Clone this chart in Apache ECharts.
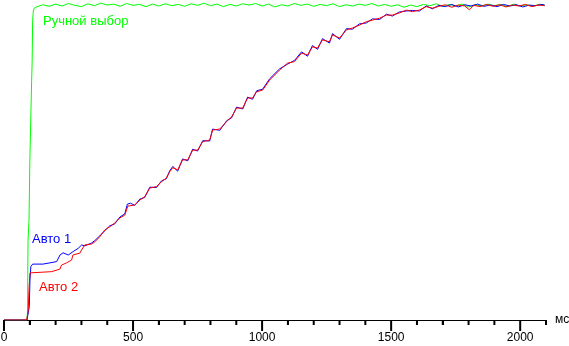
<!DOCTYPE html>
<html><head><meta charset="utf-8">
<script src="https://cdn.jsdelivr.net/npm/echarts@6/dist/echarts.min.js"></script>
<style>html,body{margin:0;padding:0;background:#fff}#c{width:569px;height:346px}</style>
</head><body><div id="c"></div>
<script>
// x in ms, y in % of final level
const majorTicks = [0, 500, 1000, 1500, 2000];
const minorTicks = [100, 200, 300, 400, 600, 700, 800, 900, 1100, 1200, 1300, 1400, 1600, 1700, 1800, 1900, 2100];
const axisMax = 2100;
const seriesNames = ['Ручной выбор', 'Авто 1', 'Авто 2'];
const axisUnit = 'мс';

const manual = [[0,0],[89,0],[91,2.5],[93,25],[97,32],[100,50],[107,76],[109,82],[111,95.5],[114,98.7],[119,99.5],
[125,99.7],[150,100.4],[175,99.9],[200,100.6],[225,100.0],[250,100.8],[275,100.2],[300,99.8],[325,100.7],[350,100.1],
[375,100.9],[400,100.3],[425,100.6],[450,99.9],[475,100.8],[500,100.2],[525,100.5],[550,99.8],[575,100.6],[600,100.0],
[625,100.7],[650,100.1],[675,100.5],[700,99.9],[725,100.7],[750,100.2],[775,100.9],[800,100.1],[825,100.6],[850,99.8],
[875,100.5],[900,100.0],[925,100.7],[950,100.3],[975,100.8],[1000,100.0],[1025,100.6],[1050,99.7],[1075,100.4],[1100,100.0],
[1125,100.8],[1150,100.2],[1175,100.6],[1200,99.9],[1225,100.5],[1250,100.1],[1275,100.7],[1300,99.8],[1325,100.4],[1350,100.0],
[1375,100.6],[1400,100.2],[1425,100.8],[1450,100.0],[1475,100.5],[1500,99.9],[1525,100.4],[1550,99.6],[1575,100.3],[1600,99.8],
[1625,100.5],[1650,100.1],[1675,100.7],[1700,99.8],[1725,100.5],[1750,100.0],[1775,100.6],[1800,99.7],[1825,100.4],[1850,100.0],
[1875,100.6],[1900,100.1],[1925,100.5],[1950,99.8],[1975,100.6],[2000,100.0],[2025,100.4],[2050,99.9],[2075,100.6],[2095,100.1]];

const auto1 = [[0,0],[89,0],[98,4.2],[100.6,12.7],[104,17.0],[111,17.8],[151,17.8],[178,18.2],[204,18.6],[217,20.7],[229,21.4],
[249,20.7],[268,21.8],[287,22.8],[301,23.9],[313,23.6],[339,24.5],[352,25.3],[371,26.8],[390,28.4],[410,30.0],[429,30.6],
[449,32.8],[468,33.8],[478,36.9],[490,37.2],[507,36.5],[526,38.5],[545,39.0],[565,42.3],[591,42.2],[610,44.3],[629,45.0],
[642,47.5],[654,48.9],[673,47.4],[692,51.3],[712,50.7],[731,54.4],[750,53.8],[770,57.1],[797,57.0],[808,60.8],[836,60.4],
[863,63.5],[882,64.4],[901,67.8],[925,67.2],[944,71.0],[963,70.3],[979,73.0],[1002,73.5],[1029,76.8],[1068,80.0],[1099,81.5],
[1126,82.7],[1153,85.4],[1176,84.0],[1195,87.4],[1215,86.2],[1234,89.6],[1261,88.2],[1273,91.2],[1300,89.4],[1327,92.8],
[1350,92.6],[1377,94.3],[1404,94.6],[1428,95.9],[1455,95.7],[1462,95.4],[1482,97.4],[1505,96.8],[1532,98.1],[1559,98.4],[1582,98.6],
[1609,98.4],[1636,100.0],[1660,99.1],[1685,100.2],[1710,99.8],[1735,100.5],[1760,99.7],[1785,100.4],[1810,100.0],[1835,100.6],
[1860,99.9],[1885,100.3],[1910,99.8],[1935,100.5],[1960,100.0],[1985,100.4],[2010,99.7],[2035,100.3],[2060,100.1],[2085,100.5],[2095,100.3]];

const auto2 = [[0,0],[88,0],[94,3.2],[96.7,9.6],[100.6,15.0],[107,15.4],[184.5,15.4],[189.6,15.7],[216.6,16.2],[223,17.5],
[242.6,18.2],[262,19.1],[267,20.7],[294,21.3],[300.6,22.3],[313,23.9],[339,24.2],[352,24.9],[371,26.5],[390.7,28.7],[410,29.7],
[429,30.9],[448.7,32.5],[468,33.4],[480,36.3],[506.8,36.6],[526,38.2],[545.5,39.3],[564.8,42.0],[590.7,42.5],[610,44.0],
[629,45.2],[642,47.2],[653.8,48.5],[673,47.8],[692,51.0],[711.8,51.0],[731,54.1],[750.5,54.1],[770,56.8],[797,57.3],
[808.5,60.5],[835.6,60.8],[862.7,63.2],[882,64.7],[901,67.5],[924.6,67.5],[944,70.7],[963,70.7],[978.7,72.7],[1002,73.2],
[1029,76.4],[1067.7,79.6],[1098.6,81.8],[1125.7,82.3],[1152.8,85.0],[1176,84.4],[1195.4,87.0],[1214.7,86.6],[1234,89.2],
[1261,88.6],[1272.7,90.8],[1300,89.8],[1327,92.4],[1350,93.0],[1377,93.9],[1404,95.0],[1427.5,95.5],[1454.5,96.1],
[1481.6,97.1],[1504.8,97.1],[1532,97.8],[1559,98.7],[1582,98.2],[1609,98.7],[1636,99.8],[1660,99.3],[1685,99.9],[1710,100.4],
[1735,99.6],[1760,100.3],[1785,100.0],[1803,98.8],[1820,100.2],[1845,99.8],[1870,100.5],[1895,99.9],[1920,100.4],[1945,99.7],
[1970,100.3],[1995,100.0],[2020,100.5],[2045,99.8],[2070,100.3],[2095,100.1]];

const GREEN = '#00ff00', BLUE = '#0000ff', RED = '#ff0000';
const font = '"Liberation Sans", Arial, sans-serif';
const chart = echarts.init(document.getElementById('c'));
const line = (name, data, color, z) => ({
  name, type: 'line', data, showSymbol: false, symbol: 'none', z,
  lineStyle: {color, width: 1}, itemStyle: {color}
});
const tickSeries = (values, len) => ({
  type: 'custom', data: values.map(v => [v, 0]), clip: false, z: 10,
  renderItem: (params, api) => {
    const p = api.coord([api.value(0), 0]);
    return {type: 'line', shape: {x1: p[0], y1: p[1], x2: p[0], y2: p[1] + len},
      style: {stroke: '#000', lineWidth: 2}};
  }
});
chart.setOption({
  animation: false,
  grid: {left: 4, right: 23, top: 0, bottom: 26, containLabel: false, outerBoundsMode: 'none'},
  xAxis: {
    type: 'value', min: 0, max: axisMax, interval: 100,
    axisLine: {show: true, onZero: false, lineStyle: {color: '#000', width: 1}},
    axisTick: {show: true, length: 5, lineStyle: {color: '#000', width: 1}},
    axisLabel: {show: true, margin: 12, color: '#000', fontSize: 12, fontFamily: font,
      formatter: v => (majorTicks.indexOf(v) >= 0 ? String(v) : '')},
    splitLine: {show: false},
    name: axisUnit, nameLocation: 'end', nameGap: 9,
    nameTextStyle: {color: '#000', fontSize: 12, fontFamily: font, verticalAlign: 'middle', align: 'left'}
  },
  yAxis: {type: 'value', min: 0, max: 101.91, show: false, splitLine: {show: false}},
  series: [
    line(seriesNames[0], manual, GREEN, 3),
    line(seriesNames[1], auto1, BLUE, 4),
    line(seriesNames[2], auto2, RED, 5),
    tickSeries(majorTicks, 11),
    tickSeries(minorTicks, 5)
  ],
  graphic: [
    {type: 'text', left: 43, top: 15, style: {text: seriesNames[0], fill: GREEN, font: '13px ' + font}},
    {type: 'text', left: 32, top: 233, style: {text: seriesNames[1], fill: BLUE, font: '13px ' + font}},
    {type: 'text', left: 39, top: 281, style: {text: seriesNames[2], fill: RED, font: '13px ' + font}}
  ]
});
</script></body></html>
